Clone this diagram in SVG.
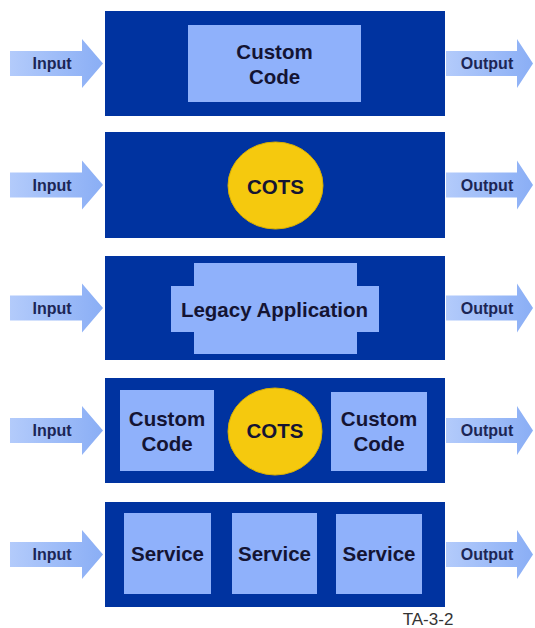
<svg xmlns="http://www.w3.org/2000/svg" width="535" height="628" viewBox="0 0 535 628">
<defs>
<linearGradient id="ag" x1="0" y1="0" x2="1" y2="0">
<stop offset="0" stop-color="#b3cbfb"/>
<stop offset="1" stop-color="#8aaef5"/>
</linearGradient>
</defs>
<style>
.panel{fill:#0033a0}
.box{fill:#8fb1fb}
.cots{fill:#f5c90e;stroke:#d9b000;stroke-width:1}
.t{font-family:"Liberation Sans",Arial,sans-serif;font-weight:bold;font-size:20.5px;fill:#141433;text-anchor:middle}
.io{font-family:"Liberation Sans",Arial,sans-serif;font-weight:bold;font-size:16px;fill:#1c2656;text-anchor:middle}
.arrow{fill:url(#ag)}
.tag{font-family:"Liberation Sans",Arial,sans-serif;font-size:17px;fill:#333;text-anchor:middle}
</style>
<rect width="535" height="628" fill="#ffffff"/>
<g id="connectors">
<path class="arrow" d="M10,51 H82 V39 L103,63.5 L82,88 V76 H10 Z"/>
<path class="arrow" d="M446,51 H517 V39 L533,63.5 L517,88 V76 H446 Z"/>
<path class="arrow" d="M10,172.5 H82 V160.5 L103,185 L82,209.5 V197.5 H10 Z"/>
<path class="arrow" d="M446,172.5 H517 V160.5 L533,185 L517,209.5 V197.5 H446 Z"/>
<path class="arrow" d="M10,295.5 H82 V283.5 L103,308 L82,332.5 V320.5 H10 Z"/>
<path class="arrow" d="M446,295.5 H517 V283.5 L533,308 L517,332.5 V320.5 H446 Z"/>
<path class="arrow" d="M10,418 H82 V406 L103,430.5 L82,455 V443 H10 Z"/>
<path class="arrow" d="M446,418 H517 V406 L533,430.5 L517,455 V443 H446 Z"/>
<path class="arrow" d="M10,542 H82 V530 L103,554.5 L82,579 V567 H10 Z"/>
<path class="arrow" d="M446,542 H517 V530 L533,554.5 L517,579 V567 H446 Z"/>
<text class="io" x="52" y="69">Input</text>
<text class="io" x="487" y="69">Output</text>
<text class="io" x="52" y="190.5">Input</text>
<text class="io" x="487" y="190.5">Output</text>
<text class="io" x="52" y="313.5">Input</text>
<text class="io" x="487" y="313.5">Output</text>
<text class="io" x="52" y="436">Input</text>
<text class="io" x="487" y="436">Output</text>
<text class="io" x="52" y="560">Input</text>
<text class="io" x="487" y="560">Output</text>
</g>
<g id="panel1">
<rect class="panel" x="105" y="11" width="340" height="105"/>
<g id="custom-code-1">
<rect class="box" x="188" y="25" width="173" height="77"/>
<text class="t" x="274.5" y="59">Custom</text>
<text class="t" x="274.5" y="84">Code</text>
</g>
</g>
<g id="panel2">
<rect class="panel" x="105" y="132" width="340" height="106"/>
<g id="cots-1">
<ellipse class="cots" cx="275.5" cy="185.5" rx="47.5" ry="43.5"/>
<text class="t" x="275.5" y="194">COTS</text>
</g>
</g>
<g id="panel3">
<rect class="panel" x="105" y="256" width="340" height="104"/>
<g id="legacy">
<path class="box" d="M194,263 H357 V286 H379 V332 H357 V354 H194 V332 H171 V286 H194 Z"/>
<text class="t" x="274.5" y="317">Legacy Application</text>
</g>
</g>
<g id="panel4">
<rect class="panel" x="105" y="378" width="340" height="105"/>
<g id="custom-code-2">
<rect class="box" x="120" y="390" width="94" height="81"/>
<text class="t" x="167" y="426">Custom</text>
<text class="t" x="167" y="451">Code</text>
</g>
<g id="cots-2">
<ellipse class="cots" cx="275" cy="431.5" rx="47" ry="43.5"/>
<text class="t" x="275" y="438">COTS</text>
</g>
<g id="custom-code-3">
<rect class="box" x="331" y="392" width="96" height="79"/>
<text class="t" x="379" y="426">Custom</text>
<text class="t" x="379" y="451">Code</text>
</g>
</g>
<g id="panel5">
<rect class="panel" x="105" y="502" width="340" height="105"/>
<g id="service-1">
<rect class="box" x="124" y="513" width="87" height="81"/>
<text class="t" x="167.5" y="561">Service</text>
</g>
<g id="service-2">
<rect class="box" x="232" y="513" width="85" height="81"/>
<text class="t" x="274.5" y="561">Service</text>
</g>
<g id="service-3">
<rect class="box" x="336" y="514" width="86" height="80"/>
<text class="t" x="379" y="561">Service</text>
</g>
</g>
<text class="tag" x="428" y="625">TA-3-2</text>
</svg>
